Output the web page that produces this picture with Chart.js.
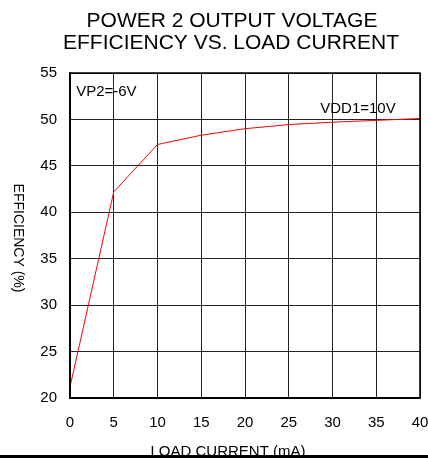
<!DOCTYPE html>
<html>
<head>
<meta charset="utf-8">
<script src="https://cdn.jsdelivr.net/npm/chart.js@4/dist/chart.umd.min.js"></script>
<style>
    html, body { margin: 0; padding: 0; background: #fff; }
    #wrap { position: relative; width: 428px; height: 458px; overflow: hidden; }
    #bar { position: absolute; left: 0; top: 455px; width: 428px; height: 3px; background: #000; }
</style>
</head>
<body>
<div id="wrap">
    <canvas id="chart" width="428" height="458"></canvas>
    <div id="bar"></div>
</div>
<script>
// values
const loadCurrent = [0, 5, 10, 15, 20, 25, 30, 35, 40];
const efficiency = [21.2, 42.2, 47.3, 48.3, 49.0, 49.45, 49.7, 49.9, 50.1];

const titleLines = ['POWER 2 OUTPUT VOLTAGE', 'EFFICIENCY VS. LOAD CURRENT'];
const xTitle = 'LOAD CURRENT (mA)';
const yTitle = 'EFFICIENCY (%)';
const notes = [
    {text: 'VP2=-6V', x: 0.7, y: 52.95},
    {text: 'VDD1=10V', x: 28.6, y: 51.1}
];

const FONT = '"Liberation Sans", Arial, sans-serif';

// titles, notes and the closing frame are drawn by hand
const textPlugin = {
    id: 'textPlugin',
    afterDraw(chart) {
        let ctx = chart.ctx;
        let area = chart.chartArea;
        let xs = chart.scales.x;
        let ys = chart.scales.y;
        ctx.save();
        ctx.fillStyle = '#000';

        ctx.font = '21px ' + FONT;
        ctx.textAlign = 'center';
        ctx.textBaseline = 'alphabetic';
        ctx.fillText(titleLines[0], 232, 27);
        ctx.fillText(titleLines[1], 231, 49);

        ctx.font = '15px ' + FONT;
        ctx.fillText(xTitle, 228, 456);

        ctx.save();
        ctx.translate(18, 238);
        ctx.rotate(Math.PI / 2);
        ctx.font = '14px ' + FONT;
        ctx.textBaseline = 'middle';
        ctx.fillText(yTitle, 0, 0);
        ctx.restore();

        ctx.font = '15px ' + FONT;
        ctx.textAlign = 'left';
        ctx.textBaseline = 'middle';
        notes.forEach(n => {
            ctx.fillText(n.text, xs.getPixelForValue(n.x), ys.getPixelForValue(n.y));
        });

        ctx.strokeStyle = '#000';
        ctx.lineWidth = 1.5;
        ctx.strokeRect(area.left, area.top, area.right - area.left, area.bottom - area.top);
        ctx.restore();
    }
};

let config = {
    type: 'line',
    data: {
        datasets: [{
            data: loadCurrent.map((x, i) => ({x: x, y: efficiency[i]})),
            borderColor: '#ff0000',
            borderWidth: 1,
            pointRadius: 0,
            tension: 0,
            fill: false
        }]
    },
    options: {
        responsive: false,
        animation: false,
        layout: {
            padding: {top: 73, right: 8, bottom: 0, left: 0}
        },
        plugins: {
            legend: {display: false},
            tooltip: {enabled: false},
            title: {display: false}
        },
        scales: {
            x: {
                type: 'linear',
                min: 0,
                max: 40,
                afterFit: scale => {
                    scale.height = 60;
                    scale.paddingLeft = 0;
                    scale.paddingRight = 0;
                },
                ticks: {
                    stepSize: 5,
                    color: '#000',
                    font: {family: FONT, size: 15},
                    padding: 16,
                    maxRotation: 0
                },
                grid: {color: '#222', lineWidth: 1, drawTicks: false},
                border: {color: '#000', width: 1.5}
            },
            y: {
                min: 20,
                max: 55,
                afterFit: scale => {
                    scale.width = 70;
                    scale.paddingTop = 0;
                    scale.paddingBottom = 0;
                },
                ticks: {
                    stepSize: 5,
                    color: '#000',
                    font: {family: FONT, size: 15},
                    padding: 13
                },
                grid: {color: '#222', lineWidth: 1, drawTicks: false},
                border: {color: '#000', width: 1.5}
            }
        }
    },
    plugins: [textPlugin]
};

new Chart(document.getElementById('chart'), config);
</script>
</body>
</html>
